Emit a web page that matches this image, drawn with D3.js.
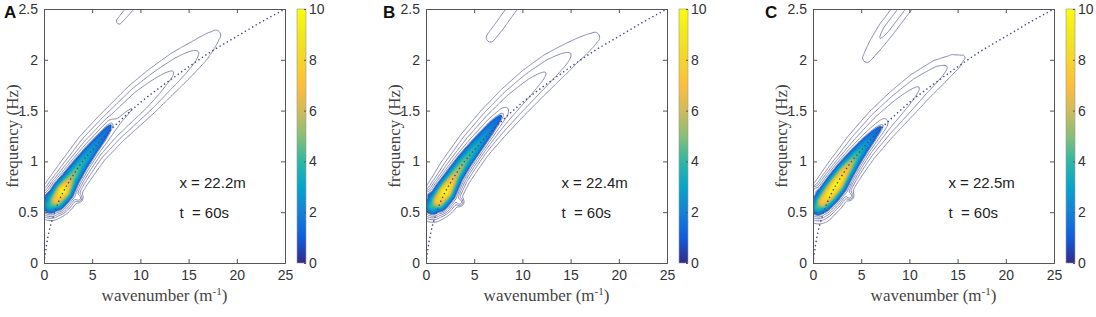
<!DOCTYPE html>
<html>
<head>
<meta charset="utf-8">
<script src="https://cdn.jsdelivr.net/npm/d3@7"></script>
<style>
  body { margin: 0; background: #fff; }
  svg { display: block; }
  .tick text { font-family: "Liberation Sans", Arial, sans-serif; font-size: 14px; fill: #333; }
  .tick line, .domain { stroke: #555; }
</style>
</head>
<body>
<div id="chart"></div>
<script>
// dotted dispersion curve (k in 1/m, f in Hz)
const dispK = [0, 0.25, 0.5, 1, 1.5, 2, 3, 4, 5, 6, 8, 10, 12.5, 15, 17.5, 20, 22.5, 25];
const dispF = [0, 0.17, 0.3, 0.47, 0.6, 0.7, 0.86, 1.0, 1.11, 1.22, 1.41, 1.58, 1.76, 1.93, 2.09, 2.23, 2.37, 2.5];

const panelNames = ["A", "B", "C"];
const positions = ["x = 22.2m", "x = 22.4m", "x = 22.5m"];
const times = ["t  = 60s", "t  = 60s", "t  = 60s"];

const xTicks = [0, 5, 10, 15, 20, 25];
const yTicks = [0, 0.5, 1, 1.5, 2, 2.5];
const cbTicks = [0, 2, 4, 6, 8, 10];

// energetic core of each spectrum: centre (k, f), peak value, cross width
const coreA_k = [0.7, 1.3, 2.0, 2.8, 3.8, 5.0, 6.0, 6.9];
const coreA_f = [0.57, 0.62, 0.71, 0.83, 0.97, 1.12, 1.24, 1.36];
const coreA_amp = [3.5, 6.5, 9.2, 4.8, 3.2, 2.0, 1.2, 0.5];
const coreA_w = [0.019, 0.021, 0.021, 0.019, 0.017, 0.015, 0.014, 0.013];

const coreB_k = [0.7, 1.3, 2.0, 3.0, 4.0, 5.0, 6.0, 7.0, 8.0];
const coreB_f = [0.56, 0.61, 0.7, 0.86, 1.0, 1.12, 1.24, 1.36, 1.47];
const coreB_amp = [3.5, 7, 9.2, 5.5, 4.0, 3.0, 2.0, 1.1, 0.4];
const coreB_w = [0.019, 0.021, 0.021, 0.018, 0.017, 0.016, 0.015, 0.014, 0.012];

const coreC_k = [0.5, 1.0, 1.7, 2.5, 3.3, 4.3, 5.3, 6.3, 7.3];
const coreC_f = [0.55, 0.6, 0.68, 0.78, 0.9, 1.03, 1.15, 1.26, 1.36];
const coreC_amp = [3.5, 6.5, 8.5, 9.2, 7.0, 4.0, 2.3, 1.1, 0.4];
const coreC_w = [0.018, 0.02, 0.021, 0.021, 0.019, 0.017, 0.015, 0.014, 0.012];

// broad low-level envelope traced by the outer contour lines
const haloA_k = [0.7, 1.5, 3, 5, 7, 10, 12, 14, 16, 17.8];
const haloA_f = [0.6, 0.66, 0.87, 1.13, 1.33, 1.6, 1.77, 1.93, 2.08, 2.24];
const haloA_amp = [0.8, 0.9, 0.85, 0.8, 0.75, 0.68, 0.5, 0.36, 0.22, 0.12];
const haloA_w = [0.034, 0.034, 0.034, 0.034, 0.035, 0.038, 0.039, 0.039, 0.038, 0.035];

const haloB_k = [0.7, 1.5, 3, 5, 7, 9, 11, 13, 15, 17.5];
const haloB_f = [0.58, 0.64, 0.89, 1.16, 1.38, 1.58, 1.76, 1.92, 2.06, 2.22];
const haloB_amp = [0.8, 0.9, 0.85, 0.8, 0.75, 0.65, 0.5, 0.36, 0.22, 0.12];
const haloB_w = [0.034, 0.034, 0.034, 0.034, 0.035, 0.036, 0.037, 0.037, 0.036, 0.034];

const haloC_k = [0.6, 1.5, 3, 5, 7, 9, 11, 13, 14.5, 15.5];
const haloC_f = [0.56, 0.66, 0.88, 1.14, 1.36, 1.55, 1.73, 1.88, 1.97, 2.02];
const haloC_amp = [0.8, 0.9, 0.85, 0.8, 0.7, 0.55, 0.4, 0.28, 0.18, 0.11];
const haloC_w = [0.034, 0.034, 0.034, 0.034, 0.035, 0.036, 0.036, 0.034, 0.03, 0.025];

// weak upper branch near the top of each plot
const harmA_k = [7.8, 8.6, 9.6];
const harmA_f = [2.38, 2.47, 2.58];
const harmA_amp = [0.14, 0.16, 0.16];
const harmA_w = [0.014, 0.014, 0.014];

const harmB_k = [6.7, 7.6, 8.5, 9.5];
const harmB_f = [2.22, 2.33, 2.45, 2.58];
const harmB_amp = [0.15, 0.16, 0.16, 0.16];
const harmB_w = [0.02, 0.02, 0.02, 0.02];

const harmC_k = [5.6, 6.5, 7.6, 8.8, 10];
const harmC_f = [2.02, 2.15, 2.3, 2.45, 2.6];
const harmC_amp = [0.14, 0.2, 0.25, 0.25, 0.25];
const harmC_w = [0.022, 0.024, 0.025, 0.025, 0.025];

// small side lobes: [k, f, peak, width]
const lobesA = [[0.3, 0.66, 0.5, 0.009], [3.6, 0.64, 0.5, 0.009]];
const lobesB = [[0.2, 0.68, 0.45, 0.009], [3.5, 0.6, 0.5, 0.009]];
const lobesC = [[0.2, 0.72, 0.5, 0.009], [3.8, 0.66, 0.5, 0.009]];

// MATLAB parula colour stops
const parulaStops = [0, 0.1, 0.2, 0.3, 0.4, 0.5, 0.6, 0.7, 0.8, 0.9, 1];
const parulaColors = ["#352a87", "#0f5cdd", "#1481d6", "#06a4ca", "#2eb7a4", "#87bf77",
  "#d1bb59", "#febe3c", "#f5d52a", "#f2e81d", "#f9fb0e"];

const lineLevels = [0.1, 0.22, 0.4, 0.7, 1.1];
const fillLevels = d3.range(1.2, 10.01, 0.2);

const panels = [
  { ridges: [[coreA_k, coreA_f, coreA_amp, coreA_w], [haloA_k, haloA_f, haloA_amp, haloA_w], [harmA_k, harmA_f, harmA_amp, harmA_w]], lobes: lobesA },
  { ridges: [[coreB_k, coreB_f, coreB_amp, coreB_w], [haloB_k, haloB_f, haloB_amp, haloB_w], [harmB_k, harmB_f, harmB_amp, harmB_w]], lobes: lobesB },
  { ridges: [[coreC_k, coreC_f, coreC_amp, coreC_w], [haloC_k, haloC_f, haloC_amp, haloC_w], [harmC_k, harmC_f, harmC_amp, harmC_w]], lobes: lobesC },
];

// layout
const plotLeft = [44, 426, 813];
const labelLeft = [4, 383, 765];
const plotTop = 9, plotW = 241, plotH = 254;
const nx = 220, ny = 220;

const parula = d3.scaleLinear().domain(parulaStops).range(parulaColors).interpolate(d3.interpolateRgb);

const svg = d3.select("#chart").append("svg").attr("width", 1096).attr("height", 317);
const defs = svg.append("defs");

const grad = defs.append("linearGradient").attr("id", "parula")
  .attr("x1", 0).attr("y1", 1).attr("x2", 0).attr("y2", 0);
parulaStops.forEach((s, i) => grad.append("stop").attr("offset", s).attr("stop-color", parulaColors[i]));

// value of one ridge at normalised position (u, v)
function ridgeValue(r, u, v) {
  const [ks, fs, amps, ws] = r;
  let best = 0;
  for (let s = 0; s < ks.length - 1; s++) {
    const ax = ks[s] / 25, ay = fs[s] / 2.5, bx = ks[s + 1] / 25, by = fs[s + 1] / 2.5;
    const dx = bx - ax, dy = by - ay;
    let t = ((u - ax) * dx + (v - ay) * dy) / (dx * dx + dy * dy);
    t = Math.max(0, Math.min(1, t));
    const px = ax + t * dx, py = ay + t * dy;
    const d2 = (u - px) * (u - px) + (v - py) * (v - py);
    const a = amps[s] + t * (amps[s + 1] - amps[s]);
    const w = ws[s] + t * (ws[s + 1] - ws[s]);
    const val = a * Math.exp(-d2 / (2 * w * w));
    if (val > best) best = val;
  }
  return best;
}

panels.forEach((p, pi) => {
  const left = plotLeft[pi];
  const x = d3.scaleLinear().domain([0, 25]).range([left, left + plotW]);
  const y = d3.scaleLinear().domain([0, 2.5]).range([plotTop + plotH, plotTop]);

  // sample the spectrum on a grid
  const values = new Float64Array(nx * ny);
  for (let j = 0; j < ny; j++) {
    const v = 1 - (j + 0.5) / ny;
    for (let i = 0; i < nx; i++) {
      const u = (i + 0.5) / nx;
      let val = 0;
      p.ridges.forEach(r => { val += ridgeValue(r, u, v); });
      p.lobes.forEach(l => {
        const du = u - l[0] / 25, dv = v - l[1] / 2.5;
        val += l[2] * Math.exp(-(du * du + dv * dv) / (2 * l[3] * l[3]));
      });
      values[j * nx + i] = val;
    }
  }

  const proj = d3.geoTransform({
    point: function (gx, gy) { this.stream.point(x(gx / nx * 25), y(2.5 - gy / ny * 2.5)); }
  });
  const path = d3.geoPath(proj);

  defs.append("clipPath").attr("id", "clip" + pi)
    .append("rect").attr("x", left).attr("y", plotTop).attr("width", plotW).attr("height", plotH);

  const g = svg.append("g").attr("clip-path", "url(#clip" + pi + ")");

  // filled colour map
  const fills = d3.contours().size([nx, ny]).thresholds(fillLevels)(values);
  g.selectAll("path.fill").data(fills).join("path")
    .attr("class", "fill")
    .attr("d", path)
    .attr("fill", d => parula(d.value / 10))
    .attr("stroke", d => parula(d.value / 10))
    .attr("stroke-width", 0.3);

  // contour lines
  const lines = d3.contours().size([nx, ny]).thresholds(lineLevels)(values);
  g.selectAll("path.cline").data(lines).join("path")
    .attr("class", "cline")
    .attr("d", path)
    .attr("fill", "none")
    .attr("stroke", "#8385b0")
    .attr("stroke-width", 1);

  // dispersion curve
  const line = d3.line().x((d, i) => x(dispK[i])).y(d => y(d)).curve(d3.curveMonotoneX);
  g.append("path")
    .attr("d", line(dispF))
    .attr("fill", "none")
    .attr("stroke", "#444a80")
    .attr("stroke-width", 1.4)
    .attr("stroke-dasharray", "1.4,2.8");

  // axes with inward ticks on all four sides
  svg.append("g").attr("transform", `translate(0,${plotTop + plotH})`)
    .call(d3.axisBottom(x).tickValues(xTicks).tickSize(-4).tickPadding(7).tickFormat(d => d));
  svg.append("g").attr("transform", `translate(0,${plotTop})`)
    .call(d3.axisTop(x).tickValues(xTicks).tickSize(-4).tickFormat(""));
  svg.append("g").attr("transform", `translate(${left},0)`)
    .call(d3.axisLeft(y).tickValues(yTicks).tickSize(-4).tickPadding(6).tickFormat(d => d));
  svg.append("g").attr("transform", `translate(${left + plotW},0)`)
    .call(d3.axisRight(y).tickValues(yTicks).tickSize(-4).tickFormat(""));
  svg.selectAll(".domain").attr("stroke", "#555");

  // axis titles
  svg.append("text")
    .attr("x", left + plotW / 2).attr("y", 301)
    .attr("text-anchor", "middle")
    .style("font-family", "'Liberation Serif', 'Times New Roman', serif")
    .style("font-size", "17px").style("fill", "#444")
    .text("wavenumber (m")
    .append("tspan").attr("dy", -6).style("font-size", "11px").text("-1")
    .select(function () { return this.parentNode; })
    .append("tspan").attr("dy", 6).text(")");

  svg.append("text")
    .attr("transform", `translate(${left - 32},${plotTop + plotH / 2}) rotate(-90)`)
    .attr("text-anchor", "middle")
    .attr("dy", "0.35em")
    .style("font-family", "'Liberation Serif', 'Times New Roman', serif")
    .style("font-size", "17px").style("fill", "#444")
    .text("frequency (Hz)");

  // panel letter
  svg.append("text")
    .attr("x", labelLeft[pi]).attr("y", 18)
    .style("font-family", "'Liberation Sans', Arial, sans-serif")
    .style("font-size", "17px").style("font-weight", "bold").style("fill", "#111")
    .text(panelNames[pi]);

  // annotations
  [positions[pi], times[pi]].forEach((t, ti) => {
    svg.append("text")
      .attr("x", x(14.05)).attr("y", y(ti === 0 ? 0.79 : 0.49)).attr("dy", "0.35em")
      .style("font-family", "'Liberation Sans', Arial, sans-serif")
      .style("font-size", "15px").style("fill", "#222")
      .style("white-space", "pre")
      .text(t);
  });

  // colour bar
  const cbLeft = left + plotW + 12, cbW = 9;
  const cy = d3.scaleLinear().domain([0, 10]).range([plotTop + plotH, plotTop]);
  svg.append("rect")
    .attr("x", cbLeft).attr("y", plotTop).attr("width", cbW).attr("height", plotH)
    .attr("fill", "url(#parula)").attr("stroke", "#999").attr("stroke-width", 0.6);
  const cbAxis = svg.append("g").attr("transform", `translate(${cbLeft + cbW},0)`)
    .call(d3.axisRight(cy).tickValues(cbTicks).tickSize(-2).tickPadding(3));
  cbAxis.select(".domain").remove();
  cbAxis.selectAll(".tick line").attr("stroke", "#666");
});
</script>
</body>
</html>
